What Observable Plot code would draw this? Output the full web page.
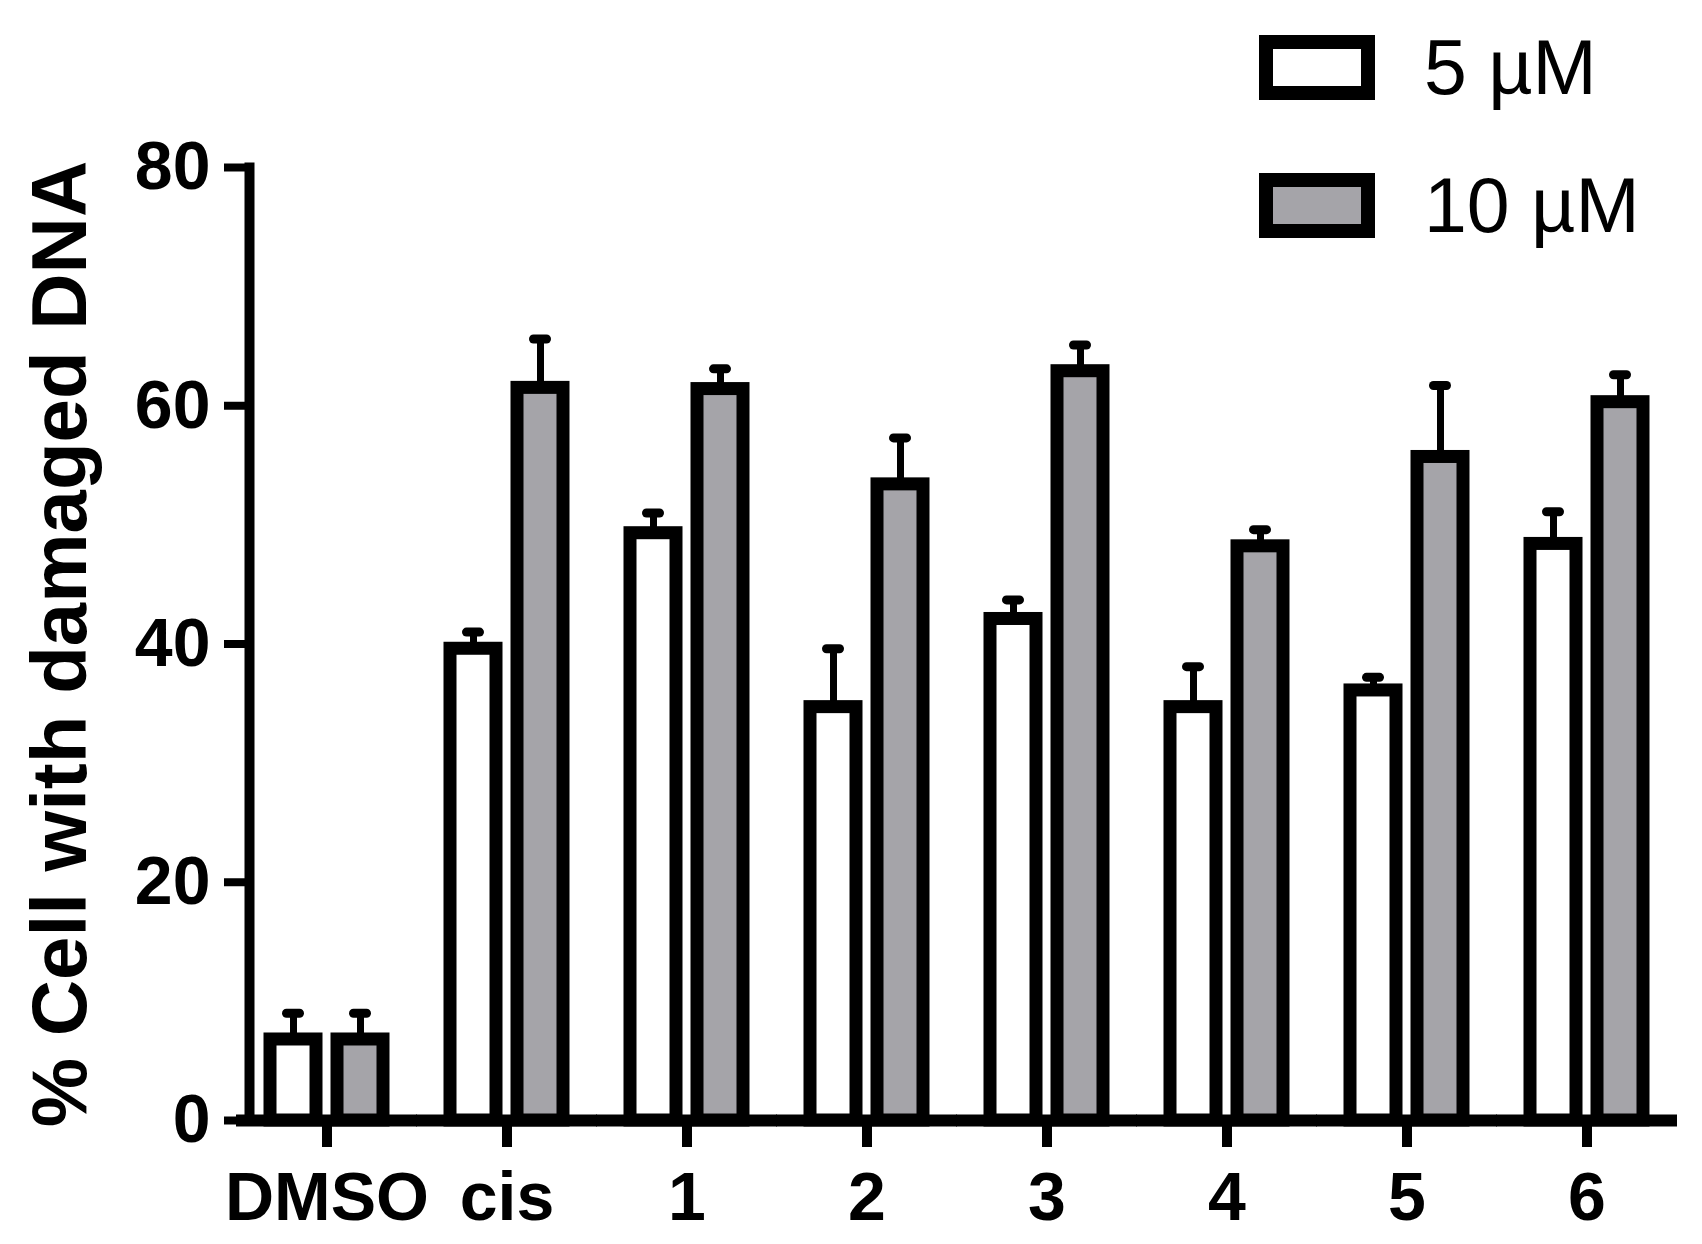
<!DOCTYPE html>
<html>
<head>
<meta charset="utf-8">
<script src="https://cdn.jsdelivr.net/npm/d3@7"></script>
<script src="https://cdn.jsdelivr.net/npm/@observablehq/plot@0.6"></script>
<style>
  body { margin: 0; background: #fff; }
  #wrap { position: relative; width: 1702px; height: 1244px; }
  #legend { position: absolute; left: 1266px; top: 42px; }
  #legend .lg-swatches { display: flex !important; flex-direction: column; align-items: flex-start !important; }
  #legend .lg-swatch { display: flex !important; align-items: center; margin: 0 0 87px 0 !important; line-height: 51px; }
  #legend .lg-swatch svg { margin-right: 56px !important; overflow: visible; }
  #legend .lg-swatch svg rect { stroke: #000; stroke-width: 14px; }
</style>
</head>
<body>
<div id="wrap"><div id="legend"></div></div>
<script>
const groups = ["DMSO", "cis", "1", "2", "3", "4", "5", "6"];
const series = ["5 µM", "10 µM"];
const mean5 = [6.8, 39.6, 49.3, 34.7, 42.1, 34.7, 36.1, 48.4];
const err5 = [2.2, 1.4, 1.7, 4.9, 1.6, 3.4, 1.1, 2.7];
const mean10 = [6.8, 61.5, 61.4, 53.4, 62.9, 48.2, 55.7, 60.3];
const err10 = [2.2, 4.1, 1.7, 3.9, 2.2, 1.4, 6.0, 2.3];
const yTicks = [0, 20, 40, 60, 80];
const fills = ["#ffffff", "#a5a4a9"];

const rows = groups.flatMap((g, i) => [
  {group: g, series: series[0], value: mean5[i], err: err5[i]},
  {group: g, series: series[1], value: mean10[i], err: err10[i]}
]);

const font = "Liberation Sans, Arial, Helvetica, sans-serif";

const chart = Plot.plot({
  width: 1702,
  height: 1244,
  marginLeft: 245,
  marginRight: 34,
  marginTop: 167,
  marginBottom: 124,
  style: {fontFamily: font, background: "#fff", color: "#000"},
  fx: {domain: groups, paddingInner: 0.138, paddingOuter: 0, label: null},
  x: {domain: series, paddingInner: 0.309, paddingOuter: 0.3015, axis: null},
  y: {domain: [0, 80], label: null},
  color: {domain: series, range: fills},
  marks: [
    Plot.barY(rows, {
      fx: "group", x: "series", y: "value",
      fill: "series", stroke: "#000", strokeWidth: 13
    }),
    Plot.ruleX(rows, {
      fx: "group", x: "series", y1: "value", y2: (d) => d.value + d.err,
      stroke: "#000", strokeWidth: 7
    }),
    Plot.tickY(rows, {
      fx: "group", x: "series", y: (d) => d.value + d.err,
      stroke: "#000", strokeWidth: 9, strokeLinecap: "round",
      insetLeft: 16.5, insetRight: 16.5
    }),
    Plot.ruleY([0], {stroke: "#000", strokeWidth: 12, insetLeft: -13, insetRight: -13}),
    Plot.frame({anchor: "left", facetAnchor: "left", stroke: "#000", strokeWidth: 10}),
    Plot.axisY({
      ticks: yTicks, tickSize: 25, tickPadding: 14, strokeWidth: 8,
      fontSize: 68, fontWeight: "bold", fontFamily: font, label: null
    }),
    Plot.axisFx({
      anchor: "bottom", tickSize: 27, tickPadding: 24, strokeWidth: 10,
      fontSize: 68, fontWeight: "bold", fontFamily: font, label: null
    }),
    Plot.text(["% Cell with damaged DNA"], {
      facetAnchor: "left", frameAnchor: "left", textAnchor: "middle",
      rotate: -90, dx: -188,
      fontSize: 78, fontWeight: "bold", fontFamily: font, fill: "#000"
    })
  ]
});

document.getElementById("wrap").prepend(chart);

const legend = chart.legend("color", {
  legend: "swatches",
  swatchWidth: 102,
  swatchHeight: 51,
  className: "lg",
  style: {fontFamily: font, fontSize: "77px", color: "#000"}
});
document.getElementById("legend").append(legend);
</script>
</body>
</html>
